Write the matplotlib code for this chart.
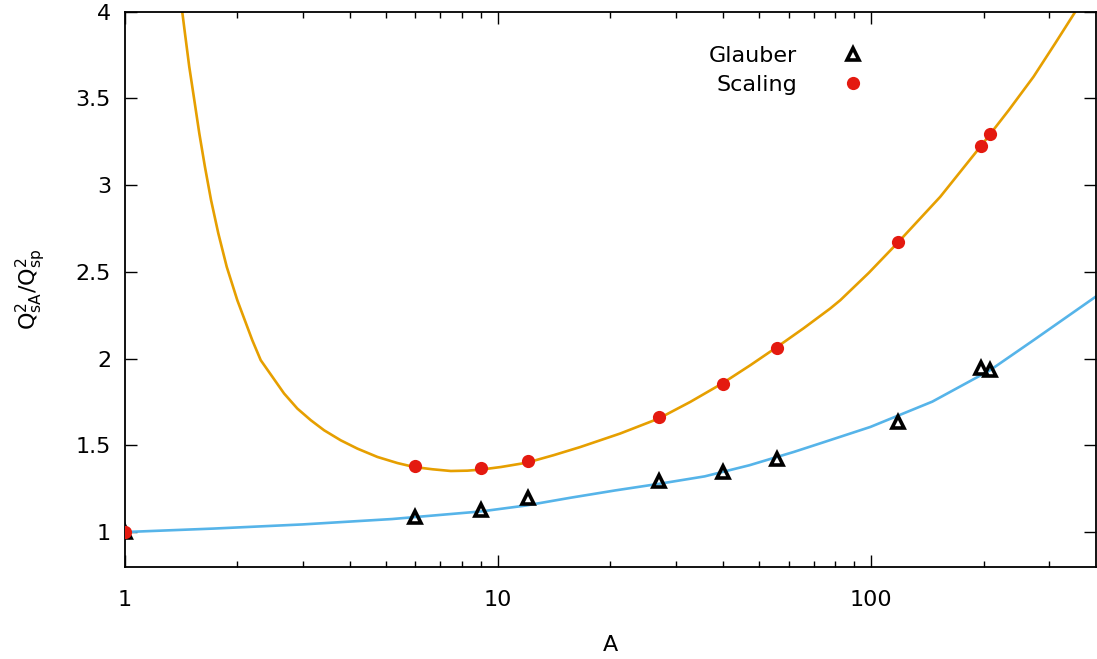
import numpy as np
import matplotlib.pyplot as plt
from matplotlib.ticker import FixedLocator, NullFormatter

# data points
A = [1, 6, 9, 12, 27, 40, 56, 118, 197, 208]
glauber = [1.0, 1.087, 1.125, 1.195, 1.293, 1.346, 1.422, 1.637, 1.946, 1.933]
scaling = [1.0, 1.379, 1.372, 1.408, 1.662, 1.856, 2.064, 2.670, 3.227, 3.295]

# fit curves
fit_A_scaling = [1.424, 1.448, 1.487, 1.534, 1.582, 1.638, 1.701, 1.779, 1.874, 2.000,
                 2.194, 2.311, 2.669, 2.897, 3.147, 3.416, 3.786, 4.197,
                 4.748, 5.370, 5.955, 6.668, 7.468, 8.275, 8.988, 10.17, 11.94, 14.07,
                 16.59, 21.23, 26.9, 32.7, 39.8, 47.4, 55.9, 65.85, 77.6, 82.6,
                 98.4, 117.2, 153, 196, 233.4, 272, 311, 352]
fit_scaling = [4.000, 3.876, 3.683, 3.491, 3.299, 3.106, 2.914, 2.722, 2.529, 2.337,
               2.106, 1.991, 1.799, 1.712, 1.645, 1.587, 1.529, 1.481,
               1.433, 1.398, 1.375, 1.362, 1.352, 1.354, 1.360, 1.375, 1.400, 1.443,
               1.490, 1.568, 1.654, 1.750, 1.856, 1.962, 2.067, 2.175, 2.289, 2.337,
               2.494, 2.664, 2.933, 3.222, 3.432, 3.625, 3.818, 4.000]
fit_A_glauber = [1, 1.725, 2.993, 5.194, 9.01, 11.87, 15.64, 20.59, 27.14, 35.76,
                 47.1, 62.0, 74.8, 99.4, 145.7, 208, 272, 398.6]
fit_glauber = [1.0, 1.020, 1.044, 1.075, 1.119, 1.153, 1.198, 1.240, 1.279, 1.321,
               1.385, 1.462, 1.519, 1.606, 1.752, 1.933, 2.106, 2.356]

plt.rcParams['font.family'] = 'DejaVu Sans'
plt.rcParams['mathtext.fontset'] = 'dejavusans'

fig = plt.figure(figsize=(10.97, 6.59), dpi=100)
ax = fig.add_axes([0.1139, 0.14, 0.8852, 0.8422])

ax.plot(fit_A_scaling, fit_scaling, color='#E69F00', lw=1.9, zorder=2)
ax.plot(fit_A_glauber, fit_glauber, color='#56B4E9', lw=1.9, zorder=2)

ax.plot(A, glauber, linestyle='none', marker='^', markersize=9, mfc='none',
        mec='black', mew=2.6, label='Glauber', zorder=3)
ax.plot(A, scaling, linestyle='none', marker='o', markersize=9.5,
        color='#E41A10', mec='none', label='Scaling', zorder=4)

ax.set_xscale('log')
ax.set_xlim(1, 400)
ax.set_ylim(0.8, 4)

ax.xaxis.set_major_locator(FixedLocator([1, 10, 100]))
ax.set_xticklabels(['1', '10', '100'])
minors = [2, 3, 4, 5, 6, 7, 8, 9, 20, 30, 40, 50, 60, 70, 80, 90, 200, 300]
ax.xaxis.set_minor_locator(FixedLocator(minors))
ax.xaxis.set_minor_formatter(NullFormatter())
yt = [1, 1.5, 2, 2.5, 3, 3.5, 4]
ax.set_yticks(yt)
ax.set_yticklabels(['1', '1.5', '2', '2.5', '3', '3.5', '4'])

ax.tick_params(which='major', direction='in', length=8.5, width=1.0,
               top=True, right=True, labelsize=16)
ax.tick_params(which='minor', direction='in', length=4.2, width=1.0,
               top=True, right=True)
ax.tick_params(axis='x', which='major', pad=17)
ax.tick_params(axis='y', which='major', pad=10)

for spine in ax.spines.values():
    spine.set_edgecolor('black')
    spine.set_linewidth(1.3)

ax.set_xlabel('A', fontsize=16, labelpad=18)
ax.set_ylabel(r'$\mathregular{Q^2_{sA}/Q^2_{sp}}$', fontsize=16, labelpad=20)

ax.legend(loc='upper right', bbox_to_anchor=(0.761, 0.939), frameon=False,
          markerfirst=False, fontsize=16, handlelength=1.0, handletextpad=2.0,
          borderpad=0, borderaxespad=0, labelspacing=0.43)

fig.savefig('out.png', dpi=100)
